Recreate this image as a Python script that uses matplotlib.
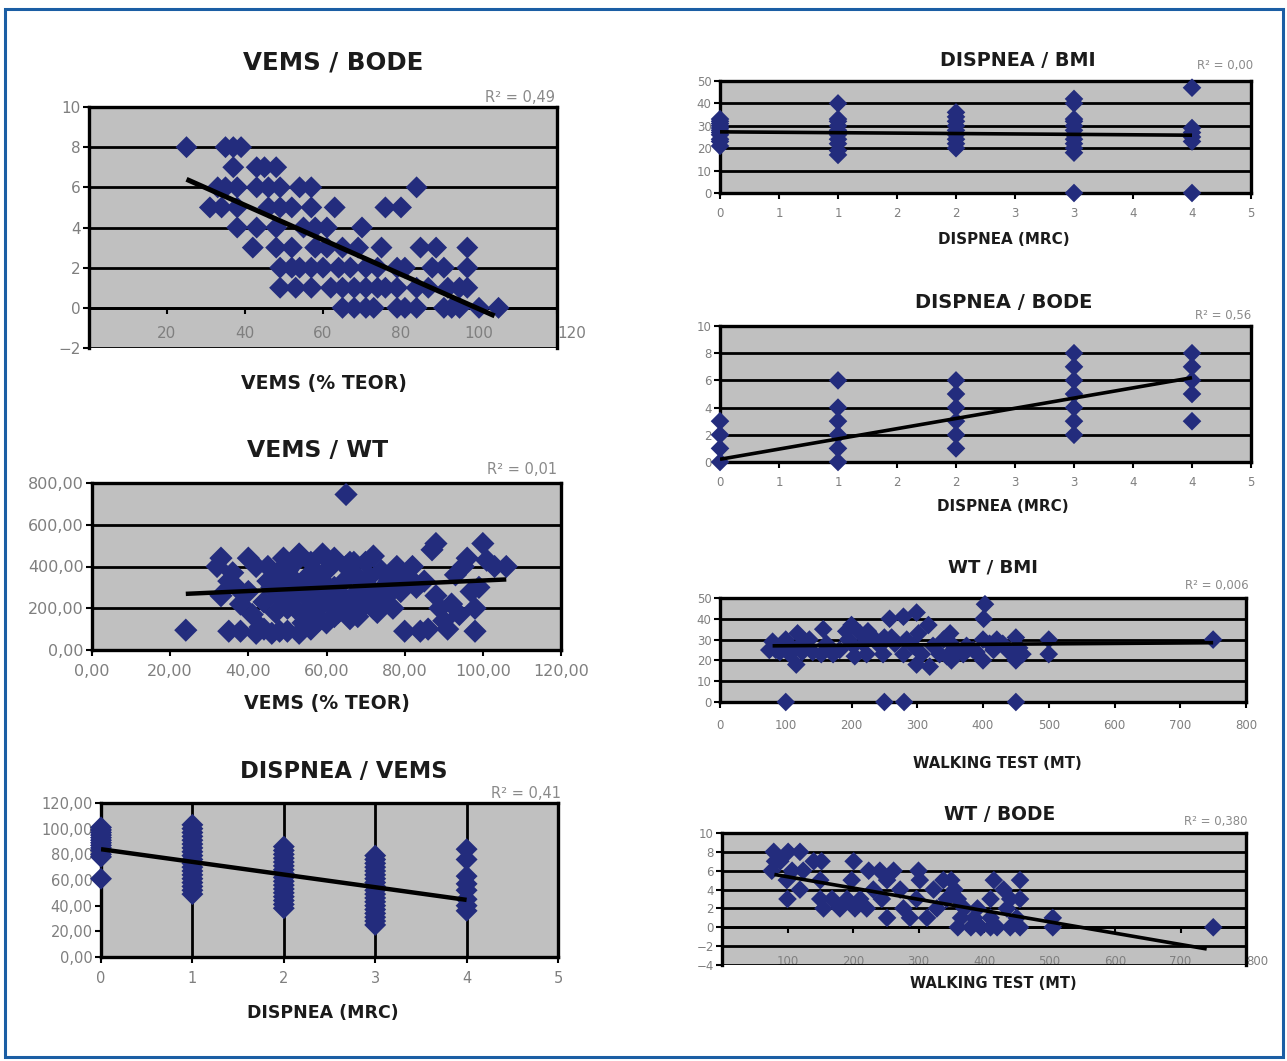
import matplotlib
matplotlib.use("Agg")
import matplotlib.pyplot as plt
import numpy as np
from matplotlib.patches import Rectangle
from matplotlib.ticker import FuncFormatter

# ---------------- DATA ----------------
# Panel 1: VEMS / BODE  (BODE value -> list of VEMS %)
p1_vems_by_bode = {
    8: [25, 35, 37, 39],
    7: [37, 43, 45, 48],
    6: [33, 35, 38, 43, 46, 49, 54, 57, 84],
    5: [31, 34, 38, 46, 49, 52, 57, 63, 76, 80],
    4: [38, 43, 48, 55, 58, 61, 70],
    3: [42, 48, 52, 58, 61, 65, 69, 75, 85, 89, 97],
    2: [49, 52, 54, 57, 60, 64, 67, 71, 74, 79, 81, 88, 91, 97],
    1: [49, 53, 57, 62, 65, 68, 71, 74, 76, 79, 84, 87, 92, 95, 97],
    0: [65, 68, 71, 73, 79, 81, 84, 91, 93, 95, 100, 105],
}
p1_trend_x = [25, 104]
p1_trend_y = [6.4, -0.4]
p1_r2 = "R² = 0,49"

# Panel 2: VEMS / WT
p2_vems = [24, 33, 32, 33, 35, 36, 37, 35, 38, 38, 40, 40, 41, 42, 43, 44, 45, 46, 47, 48,
           49, 50, 50, 51, 52, 53, 54, 55, 55, 56, 57, 58, 59, 60, 60, 61, 62, 63, 64, 65,
           65, 66, 67, 68, 69, 70, 71, 72, 73, 74, 75, 76, 77, 78, 79, 80, 81, 82, 83, 84,
           85, 86, 87, 88, 88, 89, 90, 91, 92, 93, 94, 95, 96, 97, 98, 98, 99, 100, 101, 103,
           106, 45, 47, 52, 57, 62, 66, 70, 74, 78, 42, 44, 48, 53, 56, 58, 63, 68, 72, 60, 50,
           46, 49, 51, 54, 57, 59, 61, 64, 67, 69, 71, 73, 76, 55, 58, 62, 65, 48, 52, 68]
p2_wt = [95, 440, 400, 260, 330, 370, 300, 90, 90, 220, 440, 280, 170, 400, 110, 230, 330, 80, 180, 260,
         440, 90, 380, 300, 200, 460, 130, 350, 250, 420, 170, 300, 460, 380, 130, 220, 440, 180, 320, 745,
         400, 150, 260, 350, 200, 420, 300, 450, 180, 380, 250, 330, 200, 400, 280, 90, 350, 400, 300, 90,
         330, 100, 480, 510, 260, 200, 140, 100, 220, 360, 170, 400, 440, 280, 90, 200, 300, 510, 430, 400,
         400, 400, 350, 420, 380, 300, 420, 240, 290, 350, 80, 100, 90, 80, 100, 200, 240, 160, 200, 250, 200,
         300, 350, 250, 300, 230, 330, 400, 260, 420, 300, 350, 240, 300, 180, 140, 160, 200, 380, 330, 280]
p2_trend_x = [24, 106]
p2_trend_y = [269, 338]
p2_r2 = "R² = 0,01"

# Panel 3: DISPNEA / VEMS  (MRC -> VEMS %)
p3_vems_by_dispnea = {
    0: [61, 78, 80, 83, 85, 87, 89, 91, 93, 95, 97, 99, 101],
    1: [49, 52, 55, 58, 61, 64, 67, 70, 73, 76, 79, 82, 85, 88, 91, 94, 97, 100, 103],
    2: [38, 41, 44, 47, 50, 53, 56, 59, 62, 65, 68, 71, 74, 77, 80, 83, 86],
    3: [25, 28, 31, 34, 37, 40, 43, 46, 49, 52, 55, 58, 61, 64, 67, 70, 73, 76, 79],
    4: [36, 40, 45, 52, 57, 63, 76, 84],
}
p3_trend_x = [0, 4]
p3_trend_y = [84, 44.5]
p3_r2 = "R² = 0,41"

# Panel 4: DISPNEA / BMI
p4_bmi_by_dispnea = {
    0: [21, 23, 24, 26, 27, 28, 29, 30, 31, 32, 33],
    1: [17, 19, 22, 24, 26, 28, 30, 32, 33, 40],
    2: [20, 22, 24, 26, 28, 30, 32, 34, 36],
    3: [0, 18, 20, 22, 24, 26, 28, 30, 32, 33, 40, 42],
    4: [0, 23, 25, 27, 29, 47],
}
p4_trend_x = [0, 4]
p4_trend_y = [27.3, 25.8]
p4_r2 = "R² = 0,00"

# Panel 5: DISPNEA / BODE
p5_bode_by_dispnea = {
    0: [0, 1, 2, 3],
    1: [0, 1, 2, 3, 4, 6],
    2: [1, 2, 3, 4, 5, 6],
    3: [2, 3, 4, 5, 6, 7, 8],
    4: [3, 5, 6, 7, 8],
}
p5_trend_x = [0, 4]
p5_trend_y = [0.2, 6.2]
p5_r2 = "R² = 0,56"

# Panel 6: WT / BMI
p6_wt = [75, 80, 91, 100, 106, 116, 118, 121, 136, 141, 154, 157, 162, 172, 182, 192, 195, 200,
         203, 205, 213, 218, 223, 225, 233, 243, 248, 250, 258, 261, 266, 279, 279, 284, 294, 299,
         299, 302, 307, 317, 319, 324, 334, 350, 352, 355, 370, 385, 400, 400, 401, 403, 416, 421,
         430, 440, 450, 450, 455, 460, 500, 500, 750, 100, 250, 280, 450, 85, 95, 110, 125, 130,
         340, 360, 375, 390, 410, 345]
p6_bmi = [25, 29, 24, 30, 23, 18, 33, 27, 30, 24, 23, 35, 28, 23, 25, 34, 30, 37,
          27, 22, 33, 28, 23, 34, 31, 27, 23, 31, 40, 31, 28, 41, 23, 30, 27, 43,
          18, 33, 23, 37, 17, 27, 23, 33, 20, 27, 23, 25, 20, 30, 40, 47, 25, 30,
          28, 24, 31, 20, 26, 23, 30, 23, 30, 0, 0, 0, 0, 25, 27, 26, 24, 29,
          30, 24, 27, 24, 28, 22]
p6_trend_x = [80, 750]
p6_trend_y = [27, 28.5]
p6_r2 = "R² = 0,006"

# Panel 7: WT / BODE
p7_wt = [79, 81, 76, 101, 119, 89, 107, 99, 100, 119, 124, 140, 152, 150, 150, 155, 168, 180,
         191, 198, 201, 203, 211, 221, 224, 231, 241, 244, 252, 252, 262, 272, 277, 287, 297, 300,
         302, 313, 323, 328, 338, 343, 350, 355, 360, 360, 365, 370, 380, 385, 390, 395, 410, 410,
         410, 415, 420, 430, 435, 440, 440, 450, 455, 455, 455, 505, 505, 750]
p7_bode = [8, 7, 6, 8, 8, 7, 6, 5, 3, 4, 6, 7, 7, 5, 3, 2, 3, 2,
           3, 5, 7, 2, 3, 2, 6, 4, 6, 3, 1, 5, 6, 4, 2, 1, 3, 6,
           5, 1, 4, 2, 5, 3, 5, 4, 3, 0, 1, 2, 0, 1, 2, 0, 3, 1,
           0, 5, 0, 4, 2, 3, 0, 1, 5, 3, 0, 1, 0, 0]
p7_trend_x = [80, 740]
p7_trend_y = [5.6, -2.3]
p7_r2 = "R² = 0,380"

titles = ["VEMS / BODE", "VEMS / WT", "DISPNEA / VEMS", "DISPNEA / BMI",
          "DISPNEA / BODE", "WT / BMI", "WT / BODE"]
xlabels = ["VEMS (% TEOR)", "VEMS (% TEOR)", "DISPNEA (MRC)", "DISPNEA (MRC)",
           "DISPNEA (MRC)", "WALKING TEST (MT)", "WALKING TEST (MT)"]

# ---------------- STYLE / LAYOUT ----------------
W, H = 1287, 1061
DPI = 100
NAVY = "#232c7d"
GRAY_BG = "#c0c0c0"
TICK_GRAY = "#7f7f7f"

plt.rcParams["font.family"] = ["DejaVu Sans"]
fig = plt.figure(figsize=(W / DPI, H / DPI), dpi=DPI)
fig.patch.set_facecolor("white")


def box(l, t, r, b):
    return [l / W, 1 - b / H, (r - l) / W, (b - t) / H]


def fpos(x, y):
    return x / W, 1 - y / H


def dict_to_xy(d):
    xs, ys = [], []
    for k, vals in d.items():
        for v in vals:
            xs.append(k)
            ys.append(v)
    return xs, ys


def comma_fmt(dec):
    def f(v, pos):
        return f"{v:.{dec}f}".replace(".", ",")
    return FuncFormatter(f)


half_up = FuncFormatter(lambda v, pos: str(int(np.floor(v + 0.5))))


def setup(ax, xlim, ylim, xticks, yticks, xfmt=None, yfmt=None, hgrid=True,
          vgrid=False, axis_zero=False, fs=10, pad_x=3, grid_lw=2.0, frame_lw=2.4):
    ax.set_facecolor(GRAY_BG)
    ax.set_xlim(xlim)
    ax.set_ylim(ylim)
    ax.set_xticks(xticks)
    ax.set_yticks(yticks)
    if xfmt is not None:
        ax.xaxis.set_major_formatter(xfmt)
    if yfmt is not None:
        ax.yaxis.set_major_formatter(yfmt)
    for s in ax.spines.values():
        s.set_linewidth(frame_lw)
        s.set_color("black")
    if hgrid:
        ax.yaxis.grid(True, color="black", lw=grid_lw)
    if vgrid:
        ax.xaxis.grid(True, color="black", lw=grid_lw)
    if axis_zero:
        ax.spines["bottom"].set_position(("data", 0))
        ax.spines["bottom"].set_linewidth(grid_lw)
    ax.tick_params(axis="both", direction="out", length=4, width=1.5, color="black",
                   labelcolor=TICK_GRAY, labelsize=fs)
    ax.tick_params(axis="x", pad=pad_x)
    ax.tick_params(axis="y", pad=2)


def scatter(ax, x, y, size):
    ax.scatter(x, y, marker="D", s=size, color=NAVY, edgecolors="none",
               zorder=3, clip_on=False)


def trend(ax, x, y, lw=3.0):
    ax.plot(x, y, color="black", lw=lw, zorder=4, solid_capstyle="butt")


renderer = fig.canvas.get_renderer()


def fit_text(t, width_px):
    bb = t.get_window_extent(renderer)
    t.set_fontsize(t.get_fontsize() * width_px / bb.width)


def title(cx, cy, s, width):
    t = fig.text(*fpos(cx, cy), s, ha="center", va="center", fontweight="bold",
                 color="#1b1b1b", fontsize=12)
    fit_text(t, width)


def xlabel(cx, cy, s, width):
    t = fig.text(*fpos(cx, cy), s, ha="center", va="center", fontweight="bold",
                 color="#1b1b1b", fontsize=11)
    fit_text(t, width)


def r2(rx, cy, s, fs):
    fig.text(*fpos(rx, cy), s, ha="right", va="center", color="#8a8a8a", fontsize=fs)


BIG = 125
SMALL = 90

# ---------- Panel 1 ----------
ax1 = fig.add_axes(box(89, 107, 557, 348))
setup(ax1, (0, 120), (-2, 10), [20, 40, 60, 80, 100, 120], range(-2, 11, 2),
      axis_zero=True, fs=11, pad_x=9)
ax1.get_xticklabels()[-1].set_horizontalalignment("left")
x1, y1 = dict_to_xy(p1_vems_by_bode)
scatter(ax1, y1, x1, BIG)
trend(ax1, p1_trend_x, p1_trend_y, 3.6)
title(333, 63, titles[0], 180)
xlabel(324, 384, xlabels[0], 165)
r2(555, 97, p1_r2, 10.5)

# ---------- Panel 2 ----------
ax2 = fig.add_axes(box(92, 483, 561, 650))
setup(ax2, (0, 120), (0, 800), range(0, 121, 20), range(0, 801, 200),
      xfmt=comma_fmt(2), yfmt=comma_fmt(2), fs=11.5, pad_x=6)
scatter(ax2, p2_vems, p2_wt, 140)
trend(ax2, p2_trend_x, p2_trend_y, 3.2)
title(318, 450, titles[1], 141)
xlabel(327, 704, xlabels[1], 165)
r2(557, 470, p2_r2, 10.5)

# ---------- Panel 3 ----------
ax3 = fig.add_axes(box(101, 803, 558, 957))
setup(ax3, (0, 5), (0, 120), range(0, 6), range(0, 121, 20),
      yfmt=comma_fmt(2), hgrid=False, vgrid=True, fs=10.5, pad_x=6)
x3, y3 = dict_to_xy(p3_vems_by_dispnea)
scatter(ax3, x3, y3, BIG)
trend(ax3, p3_trend_x, p3_trend_y, 3.2)
title(344, 771, titles[2], 206)
xlabel(323, 1013, xlabels[2], 150)
r2(561, 793, p3_r2, 10.5)

# ---------- Panel 4 ----------
ax4 = fig.add_axes(box(720, 81, 1251, 193))
setup(ax4, (0, 4.5), (0, 50), np.arange(0, 4.51, 0.5), range(0, 51, 10),
      xfmt=half_up, fs=8.5, pad_x=6)
x4, y4 = dict_to_xy(p4_bmi_by_dispnea)
scatter(ax4, x4, y4, SMALL)
trend(ax4, p4_trend_x, p4_trend_y, 2.6)
title(1018, 60, titles[3], 155)
xlabel(1004, 239, xlabels[3], 131)
r2(1253, 66, p4_r2, 8.5)

# ---------- Panel 5 ----------
ax5 = fig.add_axes(box(720, 326, 1251, 462))
setup(ax5, (0, 4.5), (0, 10), np.arange(0, 4.51, 0.5), range(0, 11, 2),
      xfmt=half_up, fs=8.5, pad_x=6)
x5, y5 = dict_to_xy(p5_bode_by_dispnea)
scatter(ax5, x5, y5, SMALL)
trend(ax5, p5_trend_x, p5_trend_y, 2.6)
title(1004, 302, titles[4], 178)
xlabel(1003, 506, xlabels[4], 131)
r2(1251, 315, p5_r2, 8.5)

# ---------- Panel 6 ----------
ax6 = fig.add_axes(box(720, 598, 1246, 702))
setup(ax6, (0, 800), (0, 50), range(0, 801, 100), range(0, 51, 10), fs=8.5, pad_x=8)
scatter(ax6, p6_wt, p6_bmi, SMALL)
trend(ax6, p6_trend_x, p6_trend_y, 2.6)
title(993, 568, titles[5], 90)
xlabel(997, 763, xlabels[5], 168)
r2(1249, 585, p6_r2, 8.5)

# ---------- Panel 7 ----------
ax7 = fig.add_axes(box(722, 833, 1246, 965))
setup(ax7, (0, 800), (-4, 10), range(100, 801, 100), range(-4, 11, 2),
      axis_zero=True, fs=8.5, pad_x=16)
ax7.get_xticklabels()[-1].set_horizontalalignment("left")
scatter(ax7, p7_wt, p7_bode, SMALL)
trend(ax7, p7_trend_x, p7_trend_y, 2.6)
title(1000, 815, titles[6], 111)
xlabel(993, 984, xlabels[6], 165)
r2(1247, 821, p7_r2, 8.5)

# outer blue frame
fig.add_artist(Rectangle(fpos(5, 1057), (1283 - 5) / W, (1057 - 9) / H,
                         transform=fig.transFigure, fill=False,
                         edgecolor="#1b5ea4", lw=2.2))

fig.savefig("out.png", dpi=DPI, facecolor="white")
